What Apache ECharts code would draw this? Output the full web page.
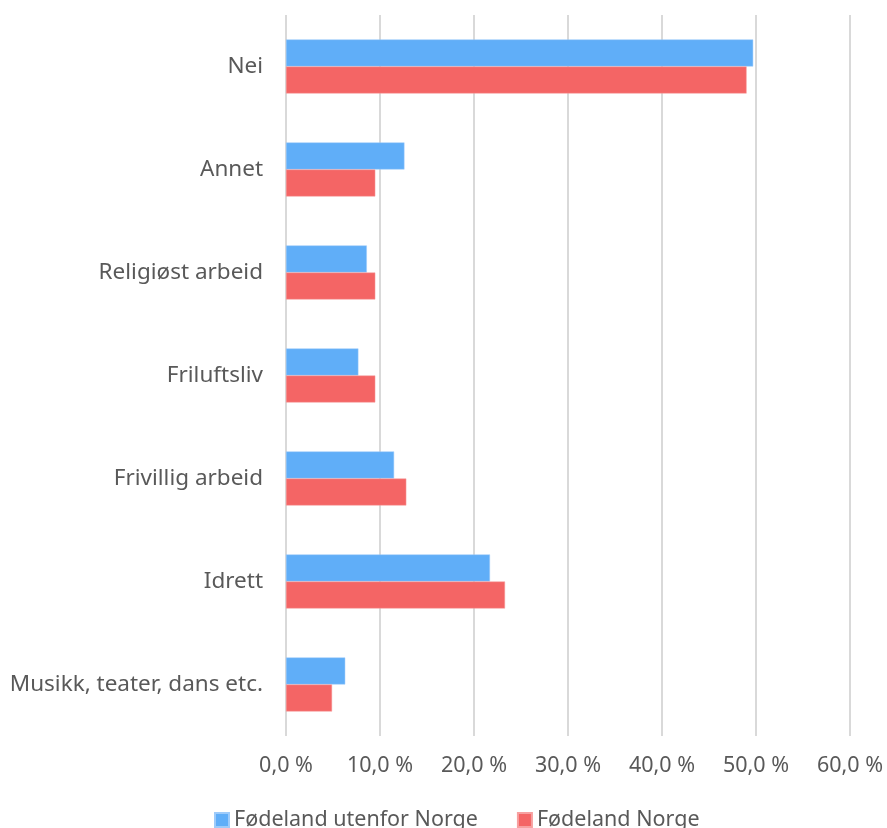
<!DOCTYPE html>
<html>
<head>
<meta charset="utf-8">
<script src="https://cdn.jsdelivr.net/npm/echarts@6/dist/echarts.min.js"></script>
<style>html,body{margin:0;padding:0;background:#fff;}#c{width:887px;height:828px;}</style>
</head>
<body>
<div id="c"></div>
<script>
const categories = ["Nei", "Annet", "Religiøst arbeid", "Friluftsliv", "Frivillig arbeid", "Idrett", "Musikk, teater, dans etc."];
const seriesNames = ["Fødeland utenfor Norge", "Fødeland Norge"];
const utenforNorge = [49.7, 12.6, 8.6, 7.7, 11.5, 21.7, 6.3];
const norge = [49.0, 9.5, 9.5, 9.5, 12.8, 23.3, 4.9];
const xTicks = [0, 10, 20, 30, 40, 50, 60];

const chart = echarts.init(document.getElementById('c'), null, {renderer: 'canvas'});
const font = '"Noto Sans"';
chart.setOption({
  animation: false,
  textStyle: {fontFamily: font},
  grid: {left: 286, right: 37, top: 15, bottom: 92, containLabel: false},
  xAxis: {
    type: 'value', min: xTicks[0], max: xTicks[xTicks.length - 1], interval: 10,
    axisLine: {show: false}, axisTick: {show: false},
    splitLine: {show: true, lineStyle: {color: '#d9d9d9', width: 2}},
    axisLabel: {color: '#595959', fontSize: 21.5, fontFamily: font, margin: 19,
      formatter: v => v.toFixed(1).replace('.', ',') + ' %'}
  },
  yAxis: {
    type: 'category', data: categories, inverse: true,
    axisLine: {show: false}, axisTick: {show: false},
    axisLabel: {color: '#595959', fontSize: 22.5, fontFamily: font, margin: 23}
  },
  legend: {
    bottom: -8, left: 209, itemWidth: 14, itemHeight: 14, itemGap: 39,
    icon: 'rect',
    textStyle: {color: '#595959', fontSize: 21.5, fontFamily: font},
    data: seriesNames
  },
  series: [
    {name: seriesNames[0], type: 'bar', data: utenforNorge, barGap: '0%', barCategoryGap: '47.5%',
      itemStyle: {color: '#60AEF8', borderColor: '#9ecbfa', borderWidth: 0.5}},
    {name: seriesNames[1], type: 'bar', data: norge, barGap: '0%', barCategoryGap: '47.5%',
      itemStyle: {color: '#F46565', borderColor: '#f7a0a0', borderWidth: 0.5}}
  ]
});
</script>
</body>
</html>
